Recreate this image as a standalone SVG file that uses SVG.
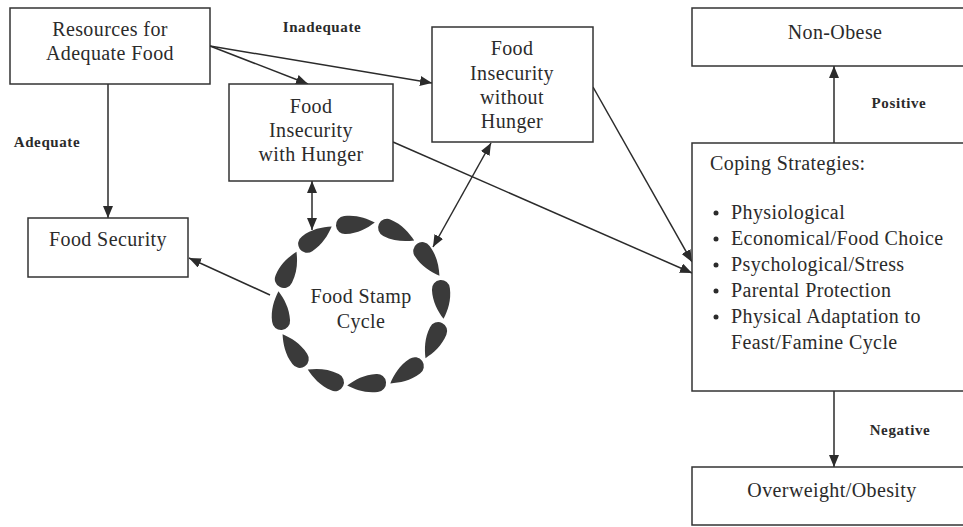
<svg xmlns="http://www.w3.org/2000/svg" xmlns:xlink="http://www.w3.org/1999/xlink" width="963" height="527" viewBox="0 0 963 527">
<style>
.box{fill:#fff;stroke:#333;stroke-width:1.5}
.t{font-family:"Liberation Serif","Times New Roman",serif;font-size:20px;fill:#2b2b2b;letter-spacing:0.4px}
.c{text-anchor:middle}
.b{font-family:"Liberation Serif","Times New Roman",serif;font-size:15px;font-weight:bold;fill:#2b2b2b;letter-spacing:0.6px;text-anchor:middle}
.ln{stroke:#2b2b2b;stroke-width:1.5;fill:none;marker-end:url(#ah)}
.dbl{marker-start:url(#ah)}
.drop{fill:#3a3a3a}
</style>
<defs>
<marker id="ah" viewBox="0 0 12 10" refX="12" refY="5" markerWidth="12" markerHeight="10" markerUnits="userSpaceOnUse" orient="auto-start-reverse">
<path d="M0,0 L12,5 L0,10 z" fill="#2b2b2b"/>
</marker>
<path id="drop" d="M21,0 C13,-5 3,-9.5 -9,-9 A9,9 0 0 0 -9,9 C3,9.5 13,5 21,0 Z"/>
</defs>
<rect width="963" height="527" fill="#fff"/>
<g id="connectors">
<line class="ln" x1="210" y1="46" x2="308" y2="84"/>
<line class="ln" x1="210" y1="46" x2="432" y2="83"/>
<line class="ln" x1="108" y1="84" x2="108" y2="218"/>
<line class="ln" x1="393" y1="142" x2="692" y2="273"/>
<line class="ln" x1="593" y1="87" x2="692" y2="262"/>
<line class="ln dbl" x1="312" y1="181" x2="312" y2="230"/>
<line class="ln dbl" x1="491" y1="143" x2="433" y2="247"/>
<line class="ln" x1="270" y1="295" x2="189" y2="258"/>
<line class="ln" x1="834" y1="143" x2="834" y2="66"/>
<line class="ln" x1="834" y1="391" x2="834" y2="467"/>
</g>
<g id="labels">
<text class="b" x="322" y="32">Inadequate</text>
<text class="b" x="47" y="147">Adequate</text>
<text class="b" x="899" y="108">Positive</text>
<text class="b" x="900" y="435">Negative</text>
</g>
<g id="resources">
<rect class="box" x="10" y="8" width="200" height="76"/>
<text class="t c" x="110" y="36">Resources for</text>
<text class="t c" x="110" y="60">Adequate Food</text>
</g>
<g id="fi-hunger">
<rect class="box" x="229" y="84" width="164" height="97"/>
<text class="t c" x="311" y="113">Food</text>
<text class="t c" x="311" y="137">Insecurity</text>
<text class="t c" x="311" y="161">with Hunger</text>
</g>
<g id="fi-nohunger">
<rect class="box" x="432" y="27" width="161" height="115"/>
<text class="t c" x="512" y="55">Food</text>
<text class="t c" x="512" y="80">Insecurity</text>
<text class="t c" x="512" y="104">without</text>
<text class="t c" x="512" y="128">Hunger</text>
</g>
<g id="food-security">
<rect class="box" x="28" y="218" width="160" height="59"/>
<text class="t c" x="108" y="246">Food Security</text>
</g>
<g id="food-stamp-cycle">
<use class="drop" xlink:href="#drop" transform="translate(353.9,224.3) rotate(-5)"/>
<use class="drop" xlink:href="#drop" transform="translate(395.2,231.6) rotate(25)"/>
<use class="drop" xlink:href="#drop" transform="translate(427.4,258.5) rotate(55)"/>
<use class="drop" xlink:href="#drop" transform="translate(441.7,297.9) rotate(85)"/>
<use class="drop" xlink:href="#drop" transform="translate(434.4,339.2) rotate(115)"/>
<use class="drop" xlink:href="#drop" transform="translate(407.5,371.4) rotate(145)"/>
<use class="drop" xlink:href="#drop" transform="translate(368.1,383.7) rotate(175)"/>
<use class="drop" xlink:href="#drop" transform="translate(326.8,378.4) rotate(205)"/>
<use class="drop" xlink:href="#drop" transform="translate(294.6,351.5) rotate(235)"/>
<use class="drop" xlink:href="#drop" transform="translate(280.3,312.1) rotate(265)"/>
<use class="drop" xlink:href="#drop" transform="translate(287.6,270.8) rotate(295)"/>
<use class="drop" xlink:href="#drop" transform="translate(314.5,238.6) rotate(325)"/>
<text class="t c" x="361" y="303">Food Stamp</text>
<text class="t c" x="361" y="328">Cycle</text>
</g>
<g id="non-obese">
<rect class="box" x="692" y="8" width="290" height="58"/>
<text class="t c" x="835" y="39">Non-Obese</text>
</g>
<g id="coping">
<rect class="box" x="692" y="143" width="290" height="248"/>
<text class="t" x="710" y="170">Coping Strategies:</text>
<g fill="#2b2b2b">
<circle cx="716" cy="213" r="2.5"/>
<circle cx="716" cy="239" r="2.5"/>
<circle cx="716" cy="265" r="2.5"/>
<circle cx="716" cy="291" r="2.5"/>
<circle cx="716" cy="317" r="2.5"/>
</g>
<text class="t" x="731" y="219">Physiological</text>
<text class="t" x="731" y="245">Economical/Food Choice</text>
<text class="t" x="731" y="271">Psychological/Stress</text>
<text class="t" x="731" y="297">Parental Protection</text>
<text class="t" x="731" y="323">Physical Adaptation to</text>
<text class="t" x="731" y="349">Feast/Famine Cycle</text>
</g>
<g id="overweight">
<rect class="box" x="692" y="467" width="290" height="58"/>
<text class="t c" x="832" y="497">Overweight/Obesity</text>
</g>
</svg>
